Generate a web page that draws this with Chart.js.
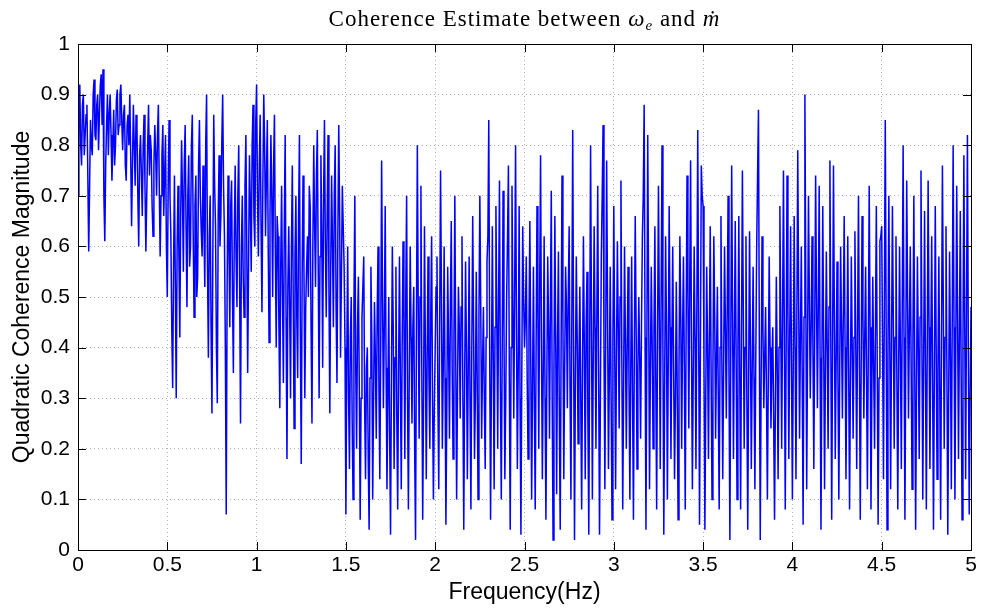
<!DOCTYPE html>
<html>
<head>
<meta charset="utf-8">
<script src="https://cdn.jsdelivr.net/npm/chart.js@4/dist/chart.umd.min.js"></script>
<style>
  html, body { margin: 0; padding: 0; background: #fff; }
  #wrap { width: 984px; height: 609px; }
</style>
</head>
<body>
<div id="wrap"><canvas id="coherenceChart" width="984" height="609"></canvas></div>
<script>
/* Data (0.005 Hz steps, one row = 0.1 Hz) */
const freqStep = 0.005;
const coherence = [
  0.70,0.84,0.92,0.80,0.76,0.88,0.90,0.78,0.82,0.86, 0.88,0.74,0.59,0.72,0.85,0.80,0.78,0.90,0.93,0.82,
  0.81,0.88,0.90,0.79,0.86,0.92,0.94,0.84,0.95,0.70, 0.61,0.76,0.84,0.90,0.78,0.86,0.90,0.82,0.73,0.80,
  0.87,0.76,0.80,0.89,0.91,0.82,0.84,0.90,0.92,0.85, 0.79,0.86,0.88,0.76,0.73,0.84,0.86,0.80,0.90,0.78,
  0.64,0.76,0.88,0.80,0.72,0.86,0.84,0.70,0.60,0.78, 0.82,0.74,0.66,0.80,0.86,0.72,0.59,0.70,0.80,0.88,
  0.74,0.82,0.79,0.68,0.62,0.76,0.84,0.78,0.70,0.82, 0.88,0.72,0.58,0.70,0.78,0.84,0.66,0.74,0.82,0.60,
  0.50,0.72,0.85,0.70,0.62,0.44,0.32,0.56,0.74,0.52, 0.30,0.60,0.72,0.58,0.42,0.66,0.81,0.70,0.55,0.76,
  0.84,0.64,0.48,0.70,0.78,0.56,0.60,0.80,0.86,0.62, 0.46,0.68,0.74,0.50,0.54,0.76,0.85,0.70,0.63,0.58,
  0.76,0.64,0.52,0.80,0.90,0.56,0.38,0.62,0.70,0.44, 0.27,0.58,0.86,0.72,0.64,0.40,0.29,0.66,0.78,0.60,
  0.66,0.80,0.90,0.72,0.62,0.40,0.07,0.52,0.74,0.60, 0.44,0.68,0.73,0.50,0.35,0.62,0.76,0.58,0.48,0.70,
  0.80,0.52,0.25,0.60,0.70,0.54,0.46,0.72,0.82,0.60, 0.35,0.56,0.78,0.68,0.55,0.80,0.88,0.66,0.60,0.84,
  0.92,0.70,0.58,0.76,0.86,0.64,0.47,0.72,0.90,0.80, 0.62,0.74,0.85,0.60,0.41,0.66,0.82,0.70,0.50,0.76,
  0.86,0.58,0.40,0.66,0.62,0.44,0.28,0.56,0.72,0.50, 0.33,0.64,0.82,0.46,0.18,0.52,0.64,0.48,0.30,0.60,
  0.76,0.50,0.24,0.58,0.70,0.46,0.34,0.66,0.82,0.42, 0.17,0.54,0.74,0.56,0.30,0.48,0.56,0.62,0.50,0.72,
  0.68,0.44,0.25,0.60,0.80,0.64,0.52,0.74,0.83,0.56, 0.30,0.58,0.78,0.62,0.36,0.70,0.85,0.60,0.46,0.66,
  0.82,0.52,0.27,0.56,0.74,0.60,0.44,0.70,0.80,0.48, 0.33,0.62,0.84,0.66,0.38,0.54,0.72,0.64,0.56,0.40,
  0.07,0.38,0.60,0.30,0.16,0.42,0.50,0.26,0.10,0.48, 0.70,0.36,0.20,0.44,0.54,0.32,0.06,0.30,0.46,0.52,
  0.58,0.28,0.14,0.36,0.40,0.18,0.04,0.34,0.56,0.42, 0.10,0.30,0.49,0.38,0.22,0.46,0.60,0.32,0.14,0.40,
  0.77,0.50,0.28,0.44,0.68,0.36,0.12,0.30,0.50,0.22, 0.03,0.34,0.60,0.44,0.16,0.38,0.56,0.26,0.08,0.36,
  0.58,0.34,0.12,0.40,0.61,0.46,0.18,0.50,0.70,0.30, 0.08,0.36,0.60,0.42,0.25,0.44,0.52,0.20,0.02,0.44,
  0.80,0.48,0.22,0.50,0.72,0.36,0.06,0.30,0.64,0.40, 0.14,0.38,0.58,0.34,0.20,0.46,0.62,0.30,0.10,0.28,
  0.40,0.52,0.58,0.30,0.12,0.44,0.75,0.50,0.20,0.36, 0.60,0.34,0.05,0.28,0.56,0.40,0.22,0.48,0.65,0.36,
  0.18,0.42,0.70,0.38,0.10,0.32,0.52,0.44,0.26,0.48, 0.62,0.30,0.04,0.34,0.57,0.40,0.14,0.36,0.58,0.30,
  0.08,0.40,0.66,0.44,0.18,0.30,0.55,0.34,0.10,0.46, 0.70,0.48,0.22,0.36,0.48,0.30,0.16,0.42,0.57,0.62,
  0.85,0.40,0.06,0.34,0.64,0.38,0.12,0.44,0.68,0.46, 0.20,0.50,0.73,0.32,0.10,0.38,0.71,0.44,0.14,0.30,
  0.50,0.62,0.76,0.34,0.04,0.40,0.72,0.48,0.26,0.52, 0.80,0.44,0.16,0.36,0.68,0.30,0.03,0.36,0.64,0.50,
  0.40,0.46,0.58,0.34,0.18,0.44,0.65,0.38,0.10,0.32, 0.56,0.30,0.08,0.40,0.68,0.46,0.20,0.52,0.78,0.40,
  0.14,0.36,0.62,0.30,0.06,0.34,0.58,0.44,0.22,0.48, 0.71,0.30,0.02,0.36,0.66,0.40,0.11,0.42,0.59,0.26,
  0.04,0.40,0.74,0.46,0.14,0.36,0.56,0.48,0.28,0.50, 0.64,0.32,0.10,0.46,0.83,0.40,0.02,0.34,0.58,0.42,
  0.21,0.38,0.52,0.30,0.08,0.36,0.62,0.40,0.14,0.44, 0.55,0.26,0.03,0.40,0.80,0.46,0.10,0.38,0.64,0.44,
  0.20,0.46,0.72,0.36,0.03,0.30,0.58,0.70,0.84,0.40, 0.12,0.44,0.77,0.48,0.16,0.34,0.56,0.30,0.06,0.42,
  0.68,0.40,0.12,0.38,0.61,0.44,0.24,0.50,0.73,0.38, 0.08,0.32,0.60,0.42,0.20,0.40,0.56,0.34,0.10,0.36,
  0.58,0.30,0.06,0.40,0.66,0.44,0.16,0.36,0.50,0.38, 0.22,0.44,0.62,0.70,0.88,0.42,0.04,0.40,0.82,0.50,
  0.12,0.36,0.56,0.40,0.20,0.44,0.64,0.34,0.08,0.42, 0.72,0.46,0.16,0.50,0.80,0.40,0.03,0.34,0.62,0.44,
  0.10,0.38,0.68,0.44,0.18,0.40,0.60,0.36,0.14,0.30, 0.53,0.32,0.06,0.36,0.62,0.46,0.20,0.42,0.58,0.36,
  0.08,0.44,0.74,0.50,0.24,0.52,0.77,0.40,0.12,0.36, 0.60,0.42,0.16,0.48,0.83,0.44,0.05,0.40,0.76,0.70,
  0.68,0.36,0.04,0.30,0.56,0.40,0.18,0.42,0.64,0.34, 0.10,0.36,0.62,0.46,0.22,0.38,0.52,0.30,0.08,0.40,
  0.66,0.38,0.14,0.36,0.60,0.44,0.26,0.48,0.70,0.34, 0.02,0.40,0.76,0.46,0.18,0.42,0.65,0.38,0.10,0.40,
  0.66,0.36,0.08,0.42,0.75,0.48,0.20,0.40,0.62,0.30, 0.04,0.34,0.63,0.40,0.16,0.36,0.56,0.34,0.12,0.38,
  0.60,0.74,0.87,0.40,0.02,0.34,0.62,0.44,0.28,0.38, 0.48,0.30,0.10,0.34,0.58,0.40,0.24,0.36,0.44,0.26,
  0.06,0.30,0.54,0.36,0.14,0.40,0.68,0.44,0.20,0.46, 0.75,0.42,0.08,0.40,0.74,0.46,0.18,0.42,0.64,0.36,
  0.10,0.38,0.66,0.40,0.14,0.46,0.79,0.50,0.22,0.42, 0.60,0.34,0.05,0.46,0.90,0.52,0.12,0.40,0.70,0.50,
  0.30,0.44,0.62,0.40,0.16,0.44,0.74,0.50,0.28,0.48, 0.72,0.38,0.04,0.36,0.68,0.42,0.12,0.36,0.59,0.40,
  0.20,0.48,0.77,0.42,0.06,0.40,0.76,0.46,0.18,0.38, 0.57,0.34,0.10,0.36,0.60,0.44,0.26,0.46,0.66,0.40,
  0.14,0.38,0.62,0.36,0.08,0.34,0.58,0.40,0.22,0.42, 0.63,0.40,0.16,0.44,0.70,0.38,0.06,0.36,0.66,0.46,
  0.26,0.42,0.56,0.34,0.12,0.40,0.72,0.44,0.08,0.32, 0.54,0.36,0.20,0.44,0.68,0.36,0.05,0.34,0.61,0.62,
  0.64,0.40,0.14,0.50,0.85,0.44,0.04,0.38,0.70,0.42, 0.12,0.40,0.68,0.46,0.20,0.42,0.62,0.34,0.08,0.36,
  0.60,0.38,0.16,0.48,0.80,0.42,0.06,0.40,0.73,0.50, 0.26,0.44,0.60,0.36,0.12,0.42,0.70,0.36,0.04,0.32,
  0.58,0.40,0.18,0.46,0.75,0.42,0.10,0.38,0.67,0.36, 0.08,0.40,0.73,0.44,0.16,0.40,0.62,0.34,0.04,0.36,
  0.68,0.40,0.14,0.36,0.58,0.32,0.06,0.42,0.76,0.48, 0.20,0.42,0.64,0.36,0.03,0.30,0.59,0.38,0.12,0.46,
  0.80,0.44,0.10,0.40,0.72,0.46,0.18,0.42,0.67,0.34, 0.06,0.40,0.78,0.44,0.14,0.48,0.82,0.40,0.07,0.30,
  0.48
];
const xTicks = [0, 0.5, 1, 1.5, 2, 2.5, 3, 3.5, 4, 4.5, 5];
const yTicks = [0, 0.1, 0.2, 0.3, 0.4, 0.5, 0.6, 0.7, 0.8, 0.9, 1];

const points = coherence.map((v, i) => ({ x: +(i * freqStep).toFixed(3), y: v }));

/* Box, inward ticks and title (MATLAB look) */
const matlabFrame = {
  id: "matlabFrame",
  afterDraw(chart) {
    const { ctx, chartArea: a, scales } = chart;
    ctx.save();
    ctx.strokeStyle = "#000";
    ctx.lineWidth = 1;
    ctx.strokeRect(a.left + 0.5, a.top + 0.5, a.right - a.left, a.bottom - a.top);
    ctx.beginPath();
    xTicks.forEach(t => {
      const px = Math.round(scales.x.getPixelForValue(t)) + 0.5;
      ctx.moveTo(px, a.bottom); ctx.lineTo(px, a.bottom - 8);
      ctx.moveTo(px, a.top); ctx.lineTo(px, a.top + 8);
    });
    yTicks.forEach(t => {
      const py = Math.round(scales.y.getPixelForValue(t)) + 0.5;
      ctx.moveTo(a.left, py); ctx.lineTo(a.left + 8, py);
      ctx.moveTo(a.right, py); ctx.lineTo(a.right - 8, py);
    });
    ctx.stroke();

    // title with math parts in italic
    const parts = [
      ["Coherence Estimate between ", "23px 'Liberation Serif'"],
      ["\u03C9", "italic 23px 'Liberation Serif'"],
      ["e", "italic 15px 'Liberation Serif'", 4],
      [" and ", "23px 'Liberation Serif'"],
      ["\u1E41", "italic 23px 'Liberation Serif'"],
    ];
    ctx.letterSpacing = "1px";
    let total = 0;
    parts.forEach(p => { ctx.font = p[1]; total += ctx.measureText(p[0]).width; });
    let x = (a.left + a.right) / 2 - total / 2;
    ctx.fillStyle = "#000";
    ctx.textBaseline = "alphabetic";
    ctx.textAlign = "left";
    parts.forEach(p => {
      ctx.font = p[1];
      ctx.fillText(p[0], x, 26 + (p[2] || 0));
      x += ctx.measureText(p[0]).width;
    });
    ctx.restore();
  }
};

const chartElement = document.getElementById("coherenceChart");
new Chart(chartElement, {
  type: "line",
  data: {
    datasets: [{
      data: points,
      borderColor: "#0000ff",
      borderWidth: 1.5,
      pointRadius: 0,
      tension: 0,
      fill: false,
    }]
  },
  options: {
    responsive: false,
    animation: false,
    layout: { padding: { left: 0, right: 13, top: 44, bottom: 0 } },
    plugins: {
      legend: { display: false },
      title: { display: false },
      tooltip: { enabled: false }
    },
    scales: {
      x: {
        type: "linear",
        min: 0,
        max: 5,
        afterBuildTicks: (scale) => { scale.ticks = xTicks.map(v => ({ value: v })); },
        afterFit: (scale) => { scale.height = 59; },
        ticks: {
          color: "#000",
          padding: 3,
          maxRotation: 0,
          font: { family: "'Liberation Sans'", size: 21 },
          callback: (v) => String(v)
        },
        grid: { color: "#b0b0b0", drawTicks: false, lineWidth: 1 },
        border: { display: false, dash: [1, 3] },
        title: {
          display: true,
          text: "Frequency(Hz)",
          color: "#000",
          padding: { top: 0, bottom: 3 },
          font: { family: "'Liberation Sans'", size: 23 }
        }
      },
      y: {
        min: 0,
        max: 1,
        afterBuildTicks: (scale) => { scale.ticks = yTicks.map(v => ({ value: v })); },
        afterFit: (scale) => { scale.width = 78; },
        ticks: {
          color: "#000",
          padding: 8,
          font: { family: "'Liberation Sans'", size: 21 },
          callback: (v) => String(Number(v.toFixed(1)))
        },
        grid: { color: "#b0b0b0", drawTicks: false, lineWidth: 1 },
        border: { display: false, dash: [1, 3] },
        title: {
          display: true,
          text: "Quadratic Coherence Magnitude",
          color: "#000",
          padding: { top: 9, bottom: 0 },
          font: { family: "'Liberation Sans'", size: 23 }
        }
      }
    }
  },
  plugins: [matlabFrame]
});
</script>
</body>
</html>
